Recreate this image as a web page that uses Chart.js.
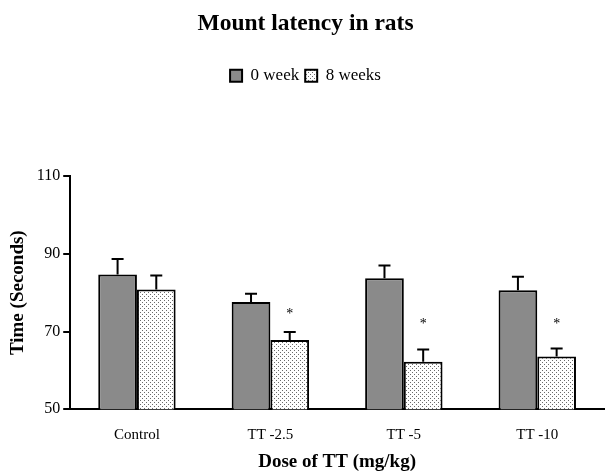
<!DOCTYPE html>
<html>
<head>
<meta charset="utf-8">
<script src="https://cdn.jsdelivr.net/npm/chart.js@4.4.1/dist/chart.umd.min.js"></script>
<style>
	html, body { margin: 0; padding: 0; background: #fff; }
	#wrap { width: 606px; height: 473px; }
</style>
</head>
<body>
<div id="wrap"><canvas id="c" width="606" height="473"></canvas></div>
<script>
(function () {
	'use strict';

	// Data.
	var categories = ['Control', 'TT -2.5', 'TT -5', 'TT -10'];
	var week0      = [84.7, 77.6, 83.7, 80.6];
	var week0Err   = [4.0, 2.1, 3.3, 3.5];
	var week8      = [80.8, 67.8, 62.2, 63.6];
	var week8Err   = [3.6, 2.1, 3.2, 2.0];
	var star8      = [false, true, true, true];
	var starValue  = [null, 75.2, 72.7, 72.7];
	var yTicks     = [50, 70, 90, 110];

	var serif = "'Liberation Serif', 'DejaVu Serif', serif";

	// Stippled fill for the 8 weeks bars.
	function dots() {
		var p = document.createElement('canvas');
		p.width = 4; p.height = 4;
		var g = p.getContext('2d');
		g.fillStyle = '#fff';
		g.fillRect(0, 0, 4, 4);
		g.fillStyle = '#6a6a6a';
		g.fillRect(0, 0, 1, 1);
		g.fillRect(2, 2, 1, 1);
		return document.getElementById('c').getContext('2d').createPattern(p, 'repeat');
	}

	var errs = [week0Err, week8Err];

	var errorBars = {
		id: 'errorBars',
		afterDatasetsDraw: function (chart) {
			var c = chart.ctx;
			var y = chart.scales.y;
			c.save();
			c.strokeStyle = '#000';
			c.lineWidth = 2;
			chart.data.datasets.forEach(function (ds, di) {
				chart.getDatasetMeta(di).data.forEach(function (bar, i) {
					var top = y.getPixelForValue(ds.data[i] + errs[di][i]);
					c.beginPath();
					c.moveTo(bar.x, bar.y);
					c.lineTo(bar.x, top);
					c.moveTo(bar.x - 6, top);
					c.lineTo(bar.x + 6, top);
					c.stroke();
				});
			});
			// significance stars
			c.fillStyle = '#000';
			c.font = '14px ' + serif;
			c.textAlign = 'center';
			c.textBaseline = 'middle';
			chart.getDatasetMeta(1).data.forEach(function (bar, i) {
				if (star8[i]) c.fillText('*', bar.x, y.getPixelForValue(starValue[i]) + 3);
			});
			c.restore();
		}
	};

	var legendGap = {
		id: 'legendGap',
		beforeInit: function (chart) {
			var fit = chart.legend.fit;
			chart.legend.fit = function () {
				fit.bind(chart.legend)();
				this.height += 82;
			};
		}
	};

	new Chart(document.getElementById('c'), {
		type: 'bar',
		data: {
			labels: categories,
			datasets: [
				{
					label: '0 week',
					data: week0,
					backgroundColor: '#8a8a8a',
					borderColor: '#000',
					borderWidth: 2,
					borderSkipped: 'bottom'
				},
				{
					label: '8 weeks',
					data: week8,
					backgroundColor: dots(),
					borderColor: '#000',
					borderWidth: 2,
					borderSkipped: 'bottom'
				}
			]
		},
		options: {
			responsive: false,
			animation: false,
			devicePixelRatio: 1,
			layout: { padding: { left: 7, right: 2, bottom: 0 } },
			datasets: {
				bar: { categoryPercentage: 0.58, barPercentage: 1.0 }
			},
			plugins: {
				title: {
					display: true,
					text: 'Mount latency in rats',
					color: '#000',
					font: { family: serif, size: 23.5, weight: 'bold' },
					padding: { top: 10, bottom: 23 }
				},
				legend: {
					position: 'top',
					labels: {
						color: '#000',
						font: { family: serif, size: 17 },
						boxWidth: 12,
						boxHeight: 12,
						padding: 6
					}
				},
				tooltip: { enabled: false }
			},
			scales: {
				x: {
					grid: { drawOnChartArea: false, drawTicks: false },
					border: { color: '#000', width: 2 },
					ticks: {
						color: '#000',
						padding: 17,
						font: { family: serif, size: 15 }
					},
					title: {
						display: true,
						text: 'Dose of TT (mg/kg)',
						color: '#000',
						font: { family: serif, size: 19, weight: 'bold' },
						padding: { top: -11, bottom: 0 }
					}
				},
				y: {
					min: yTicks[0],
					max: yTicks[yTicks.length - 1],
					afterBuildTicks: function (axis) {
						axis.ticks = yTicks.map(function (v) { return { value: v }; });
					},
					grid: { drawOnChartArea: false, drawTicks: true, tickLength: 7, color: '#000', lineWidth: 2 },
					border: { color: '#000', width: 2 },
					ticks: {
						color: '#000',
						padding: 3,
						font: { family: serif, size: 16 }
					},
					title: {
						display: true,
						text: 'Time (Seconds)',
						color: '#000',
						font: { family: serif, size: 19, weight: 'bold' },
						padding: { top: 0, bottom: 4 }
					}
				}
			}
		},
		plugins: [errorBars, legendGap]
	});

}());
</script>
</body>
</html>
